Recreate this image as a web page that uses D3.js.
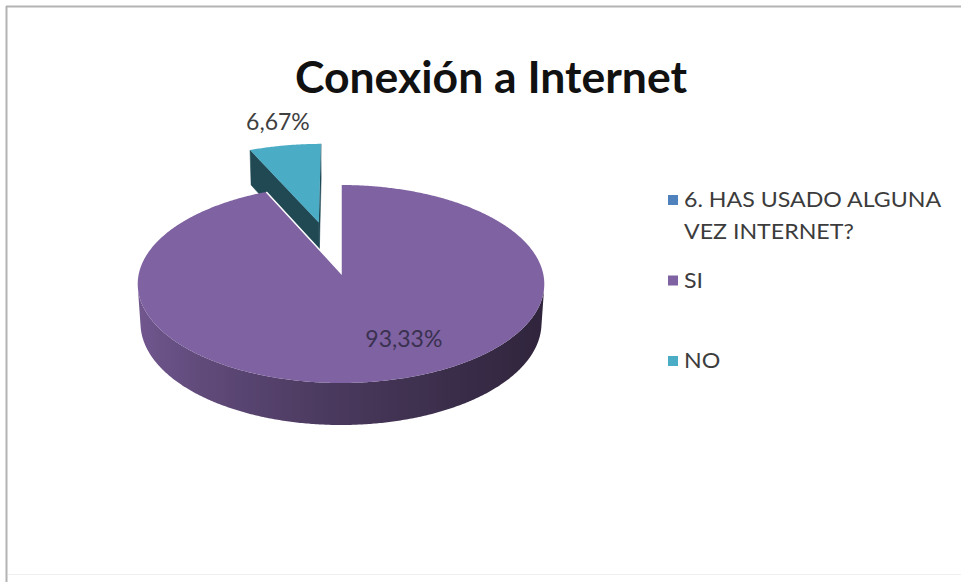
<!DOCTYPE html>
<html>
<head>
<meta charset="utf-8">
<script src="https://cdn.jsdelivr.net/npm/d3@7"></script>
<style>
  body { margin: 0; background: #ffffff; }
  svg { display: block; }
</style>
</head>
<body>
<svg id="chart" width="961" height="582"></svg>
<script>
// ---- data ----
const categories = ["6. HAS USADO ALGUNA VEZ INTERNET?", "SI", "NO"];
const values = [0, 93.33, 6.67];
const colors = ["#4f81bd", "#7f62a1", "#4bacc6"];
const explodedCategories = ["NO"];
const chartTitle = "Conexión a Internet";

// ---- setup ----
const W = 961, H = 582;
const svg = d3.select("#chart");
const defs = svg.append("defs");
const FONT = "Lato, 'Open Sans', 'DejaVu Sans', sans-serif";

// chart area frame
svg.append("line").attr("x1", 6).attr("x2", W).attr("y1", 6.5).attr("y2", 6.5)
  .attr("stroke", "#b3b3b3").attr("stroke-width", 2);
svg.append("line").attr("x1", 6.5).attr("x2", 6.5).attr("y1", 6).attr("y2", H)
  .attr("stroke", "#b3b3b3").attr("stroke-width", 2);
svg.append("line").attr("x1", 8).attr("x2", W).attr("y1", 574.5).attr("y2", 574.5)
  .attr("stroke", "#efefef").attr("stroke-width", 1);

// title
svg.append("text")
  .attr("x", 491).attr("y", 93)
  .attr("text-anchor", "middle")
  .attr("font-family", FONT).attr("font-weight", 700).attr("font-size", 43)
  .attr("textLength", 392).attr("lengthAdjust", "spacingAndGlyphs")
  .attr("fill", "#111")
  .text(chartTitle);

// ---- 3D projection of a tilted disc (x right, z away, h downward thickness) ----
const cx = 341, cy = 273, focal = 1592, Z0 = 7.88;
const tilt = Math.asin(0.484);
const sinA = Math.sin(tilt), cosA = Math.cos(tilt);
const thickness = 0.223;
const explodeDist = 0.56;
function project(x, z, h) {
  const yv = z * sinA - h * cosA;
  const zv = z * cosA + h * sinA;
  const D = Z0 + zv;
  return [cx + focal * x / D, cy - focal * yv / D];
}
const camX = 0, camZ = -Z0 * cosA;

const data = categories.map((c, i) => ({ category: c, value: values[i], color: colors[i] }));
const pie = d3.pie().sort(null).value(d => d.value).startAngle(0).endAngle(2 * Math.PI);
const slices = pie(data).filter(s => s.endAngle - s.startAngle > 1e-6).map(s => {
  const mid = (s.startAngle + s.endAngle) / 2;
  const ex = explodedCategories.includes(s.data.category) ? explodeDist : 0;
  return Object.assign(s, { mid, ox: ex * Math.sin(mid), oz: ex * Math.cos(mid) });
});

const pathOf = pts => "M" + pts.map(p => p[0].toFixed(2) + "," + p[1].toFixed(2)).join("L") + "Z";
const rim = (s, a, h) => project(s.ox + Math.sin(a), s.oz + Math.cos(a), h);
const sideColor = (base, a) => d3.color(base).darker(1.55 + 1.25 * Math.sin(a)).formatHex();

const g = svg.append("g");
const step = Math.PI / 360;
// farther slices first
const order = slices.slice().sort((a, b) => b.oz - a.oz);
order.forEach((s, si) => {
  const sg = g.append("g");
  // radial faces
  [[s.startAngle, -1], [s.endAngle, 1]].forEach(([a, dir]) => {
    const nx = dir * Math.cos(a), nz = -dir * Math.sin(a);
    const px = s.ox + 0.5 * Math.sin(a), pz = s.oz + 0.5 * Math.cos(a);
    if ((camX - px) * nx + (camZ - pz) * nz <= 0) return;
    const pts = [project(s.ox, s.oz, 0), rim(s, a, 0), rim(s, a, thickness), project(s.ox, s.oz, thickness)];
    const c = d3.color(s.data.color).darker(2.4).formatHex();
    sg.append("path").attr("d", pathOf(pts)).attr("fill", c).attr("stroke", c).attr("stroke-width", 0.5);
  });
  // outer curved side: contiguous runs of camera-facing angles, shaded by a horizontal gradient
  const visible = a => {
    const px = s.ox + Math.sin(a), pz = s.oz + Math.cos(a);
    return (camX - px) * Math.sin(a) + (camZ - pz) * Math.cos(a) > 0;
  };
  const runs = [];
  let run = null;
  for (let a = s.startAngle; a <= s.endAngle + 1e-9; a += step) {
    const aa = Math.min(a, s.endAngle);
    if (visible(aa)) { if (!run) { run = []; runs.push(run); } run.push(aa); }
    else run = null;
  }
  runs.forEach((r, ri) => {
    if (r.length < 2) return;
    const topPts = r.map(a => rim(s, a, 0));
    const botPts = r.map(a => rim(s, a, thickness)).reverse();
    const xs = topPts.concat(botPts).map(p => p[0]);
    const x1 = d3.min(xs), x2 = d3.max(xs);
    const id = `side-${si}-${ri}`;
    const grad = defs.append("linearGradient").attr("id", id)
      .attr("gradientUnits", "userSpaceOnUse")
      .attr("x1", x1).attr("x2", x2).attr("y1", 0).attr("y2", 0);
    const stops = r.filter((_, k) => k % 6 === 0 || k === r.length - 1)
      .map(a => ({ t: (rim(s, a, 0)[0] - x1) / (x2 - x1), c: sideColor(s.data.color, a) }))
      .sort((p, q) => p.t - q.t);
    stops.forEach(st => grad.append("stop").attr("offset", Math.max(0, Math.min(1, st.t))).attr("stop-color", st.c));
    sg.append("path").attr("d", pathOf(topPts.concat(botPts))).attr("fill", `url(#${id})`);
  });
  // top face
  const top = [project(s.ox, s.oz, 0)];
  for (let a = s.startAngle; a <= s.endAngle + 1e-9; a += step) top.push(rim(s, Math.min(a, s.endAngle), 0));
  top.push(rim(s, s.endAngle, 0));
  sg.append("path").attr("d", pathOf(top)).attr("fill", s.data.color);
  // light edges along the cut lines of the large slice
  if (s.endAngle - s.startAngle > Math.PI) {
    const c0 = project(s.ox, s.oz, 0);
    sg.append("path")
      .attr("d", "M" + rim(s, s.startAngle, 0) + "L" + c0 + "L" + rim(s, s.endAngle, 0))
      .attr("fill", "none").attr("stroke", "#fff").attr("stroke-width", 1.5);
  }
});

// ---- data labels ----
const fmtLocale = d3.formatLocale({ decimal: ",", thousands: ".", grouping: [3], currency: ["", "€"] });
const fmt = v => fmtLocale.format(".2f")(v) + "%";
slices.forEach(s => {
  let x, y, fill;
  if (s.ox !== 0 || s.oz !== 0) {
    const p = rim(s, s.mid, 0);
    x = p[0] - 7; y = p[1] - 15; fill = "#404040";
  } else {
    const p = project(0.68 * Math.sin(s.mid), 0.68 * Math.cos(s.mid), 0);
    x = p[0] + 32; y = p[1] + 4; fill = "#3a3150";
  }
  svg.append("text")
    .attr("x", x).attr("y", y)
    .attr("text-anchor", "middle")
    .attr("font-family", FONT).attr("font-size", 23)
    .attr("fill", fill)
    .text(fmt(s.data.value));
});

// ---- legend ----
function wrap(label, maxChars) {
  const words = label.split(" ");
  const lines = [];
  let cur = "";
  words.forEach(w => {
    const t = cur ? cur + " " + w : w;
    if (t.length > maxChars && cur) { lines.push(cur); cur = w; } else cur = t;
  });
  if (cur) lines.push(cur);
  return lines;
}
const legendY = d3.scalePoint().domain(categories).range([200, 361]);
const legend = svg.append("g");
categories.forEach((c, i) => {
  const yy = legendY(c);
  legend.append("rect")
    .attr("x", 668).attr("y", yy - 5).attr("width", 10).attr("height", 10)
    .attr("fill", colors[i]);
  wrap(c, 19).forEach((line, j) => {
    const t = legend.append("text")
      .attr("x", 684).attr("y", yy + 7 + j * 32)
      .attr("font-family", FONT).attr("font-size", 20.5)
      .attr("fill", "#3c3c3c")
      .text(line);
    // stretch to the wide legend lettering
    const w = t.node().getComputedTextLength();
    t.attr("textLength", w * 1.13).attr("lengthAdjust", "spacingAndGlyphs");
  });
});
</script>
</body>
</html>
